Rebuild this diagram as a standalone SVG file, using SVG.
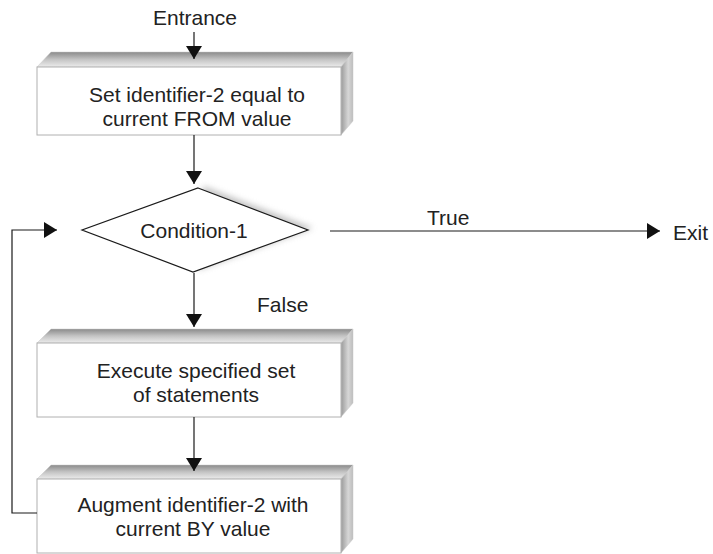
<svg xmlns="http://www.w3.org/2000/svg" width="713" height="554" viewBox="0 0 713 554">
<style>
text{font-family:"Liberation Sans",Arial,sans-serif;font-size:21px;fill:#222}
.c{text-anchor:middle}
.front{fill:#fff;stroke:#b0b0b0;stroke-width:1}
.top{fill:url(#gTop);stroke:#c8c8c8;stroke-width:0.5}
.side{fill:url(#gSide);stroke:#c8c8c8;stroke-width:0.5}
.ln{fill:none;stroke:#1a1a1a;stroke-width:1.2}
</style>
<defs>
<linearGradient id="gTop" x1="0" y1="0" x2="0" y2="1">
<stop offset="0" stop-color="#8a8a8a"/><stop offset="0.5" stop-color="#c4c4c4"/><stop offset="1" stop-color="#ececec"/>
</linearGradient>
<linearGradient id="gSide" x1="0" y1="0" x2="1" y2="0">
<stop offset="0" stop-color="#9a9a9a"/><stop offset="0.6" stop-color="#d6d6d6"/><stop offset="1" stop-color="#bdbdbd"/>
</linearGradient>
<filter id="blur" x="-20%" y="-20%" width="140%" height="140%"><feGaussianBlur stdDeviation="3"/></filter>
<marker id="ah" markerUnits="userSpaceOnUse" markerWidth="18" markerHeight="18" viewBox="0 0 18 18" refX="14" refY="9" orient="auto">
<path d="M1,1 L14,9 L1,17 Z" fill="#111"/>
</marker>
</defs>

<text class="c" x="195" y="25">Entrance</text>

<g id="box1">
<polygon class="top" points="37,67 51,52 353,52 341,67"/>
<polygon class="side" points="341,67 353,52 353,121 341,135"/>
<rect class="front" x="37" y="67" width="304" height="68"/>
<text class="c" x="197" y="102">Set identifier-2 equal to</text>
<text class="c" x="197" y="126">current FROM value</text>
</g>

<g id="cond">
<polygon points="198,188 308,230 193,272" fill="#999" opacity="0.6" filter="url(#blur)" transform="translate(5,-2)"/>
<polygon points="198,188 308,230 193,272 82,230" fill="#fff" stroke="#1a1a1a" stroke-width="1.2"/>
<text class="c" x="194" y="238">Condition-1</text>
</g>

<g id="box3">
<polygon class="top" points="37,343 51,329 353,329 341,343"/>
<polygon class="side" points="341,343 353,329 353,403 341,417"/>
<rect class="front" x="37" y="343" width="304" height="74"/>
<text class="c" x="196" y="378">Execute specified set</text>
<text class="c" x="196" y="402">of statements</text>
</g>

<g id="box4">
<polygon class="top" points="37,479 51,465 353,465 341,479"/>
<polygon class="side" points="341,479 353,465 353,539 341,553"/>
<rect class="front" x="37" y="479" width="304" height="74"/>
<text class="c" x="193" y="512">Augment identifier-2 with</text>
<text class="c" x="193" y="536">current BY value</text>
</g>

<g id="connectors">
<line class="ln" x1="194" y1="32" x2="194" y2="59" marker-end="url(#ah)"/>
<line class="ln" x1="194" y1="135" x2="194" y2="184" marker-end="url(#ah)"/>
<line class="ln" x1="194" y1="273" x2="194" y2="327" marker-end="url(#ah)"/>
<line class="ln" x1="194" y1="417" x2="194" y2="471" marker-end="url(#ah)"/>
<polyline class="ln" points="37,513 12,513 12,230 57,230" marker-end="url(#ah)"/>
<line class="ln" x1="330" y1="231" x2="660" y2="231" marker-end="url(#ah)"/>
</g>

<text x="427" y="225">True</text>
<text x="673" y="240">Exit</text>
<text x="257" y="312">False</text>
</svg>
